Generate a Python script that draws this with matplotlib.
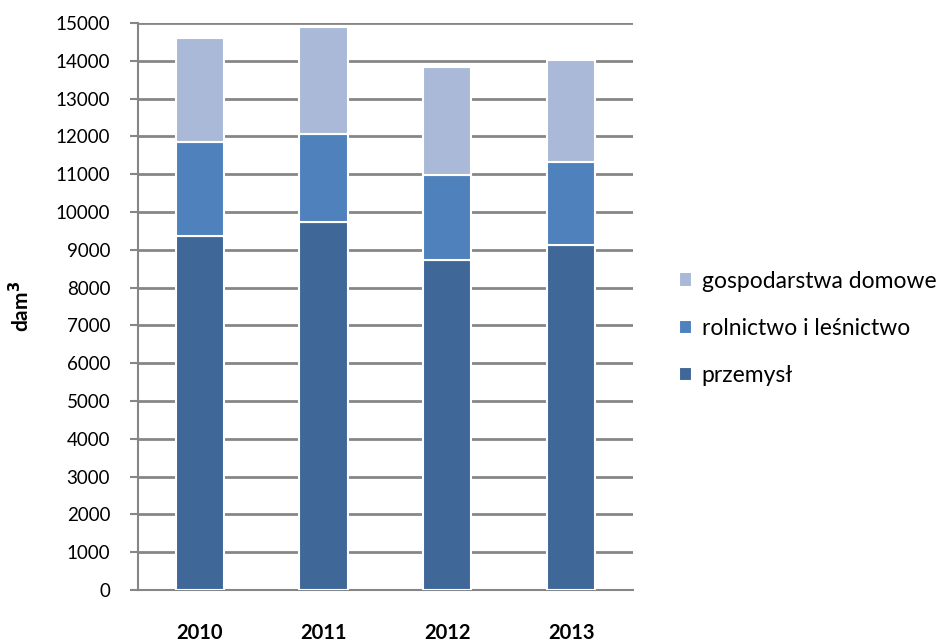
import matplotlib.pyplot as plt
import numpy as np

years = ["2010", "2011", "2012", "2013"]
przemysl = [9362, 9741, 8735, 9132]
rolnictwo = [2498, 2312, 2245, 2185]
gospodarstwa = [2730, 2828, 2853, 2709]

series = [
    ("przemysł", przemysl, "#3F6898"),
    ("rolnictwo i leśnictwo", rolnictwo, "#4F81BD"),
    ("gospodarstwa domowe", gospodarstwa, "#AAB9D7"),
]


def main():
    plt.rcParams["font.family"] = ["Lato", "DejaVu Sans"]
    fig = plt.figure(figsize=(9.51, 6.44), dpi=100)
    ax = fig.add_axes([0.1451, 0.0839, 0.5205, 0.8804])

    x = np.arange(len(years))
    bottom = np.zeros(len(years))
    handles = []
    for label, vals, color in series:
        h = ax.bar(x, vals, width=0.39, bottom=bottom, color=color,
                   edgecolor="white", linewidth=1.5, label=label, zorder=3)
        handles.append(h)
        bottom += np.array(vals)

    ax.set_xlim(-0.5, len(years) - 0.5)
    ax.set_ylim(0, 15000)
    ax.set_yticks(range(0, 15001, 1000))
    ax.tick_params(axis="y", labelsize=13.5, length=6, color="#868686",
                   width=1.5, pad=14)
    ax.set_xticks(x)
    ax.set_xticklabels(years, fontweight="bold", fontsize=14.5)
    ax.tick_params(axis="x", length=0, pad=24)
    ax.yaxis.grid(True, color="#868686", linewidth=2, zorder=0)

    for s in ["top", "right"]:
        ax.spines[s].set_visible(False)
    ax.spines["left"].set_color("#868686")
    ax.spines["left"].set_linewidth(1.5)
    ax.spines["bottom"].set_color("#868686")
    ax.spines["bottom"].set_linewidth(1.5)

    ax.set_ylabel("dam$^\\mathbf{3}$", fontweight="bold", fontsize=15, labelpad=16)

    fig.legend(handles[::-1], [s[0] for s in series[::-1]],
               loc="center left", bbox_to_anchor=(0.692, 0.49),
               frameon=False, fontsize=16.5, handlelength=0.6,
               handleheight=0.6, handletextpad=0.4, labelspacing=1.15)

    fig.savefig("out.png", dpi=100)


if __name__ == "__main__":
    main()
